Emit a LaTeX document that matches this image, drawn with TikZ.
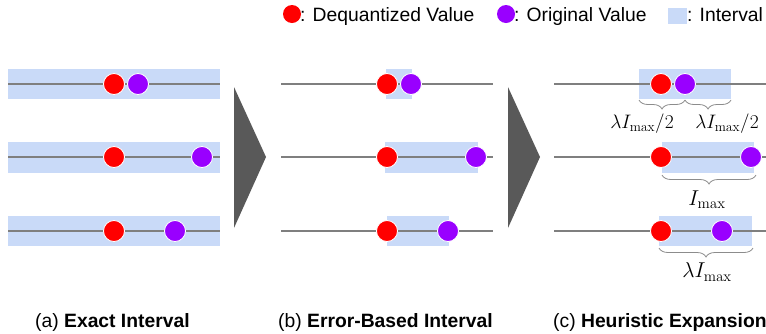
\documentclass[tikz,border=0pt]{standalone}
\usepackage{fix-cm}
\usepackage[no-math]{fontspec}
\setmainfont{Liberation Sans}
\usetikzlibrary{decorations.pathreplacing}
\definecolor{bandblue}{HTML}{C9DAF8}
\definecolor{dotred}{HTML}{FF0000}
\definecolor{dotpurple}{HTML}{9900FF}
\definecolor{arrowgray}{HTML}{595959}
\definecolor{linegray}{HTML}{7F7F7F}
\definecolor{bracegray}{HTML}{8C8C8C}
\tikzset{
  band/.style={fill=bandblue},
  axis/.style={draw=linegray, line width=1.3pt},
  reddot/.style={circle, fill=dotred, draw=white, line width=0.8pt, minimum size=21pt, inner sep=0pt},
  purpledot/.style={circle, fill=dotpurple, draw=white, line width=0.8pt, minimum size=21pt, inner sep=0pt},
  legdot/.style={circle, draw=none, minimum size=18pt, inner sep=0pt},
  bigarrow/.style={fill=arrowgray},
  brc/.style={draw=bracegray, line width=0.8pt, decorate, decoration={brace, mirror, amplitude=9pt}},
  lbl/.style={inner sep=0pt, font=\fontsize{19.5}{22}\selectfont},
  biglbl/.style={inner sep=0pt, font=\fontsize{21.5}{24}\selectfont},
  txtlbl/.style={inner sep=0pt, anchor=base west, font=\fontsize{19.3}{22}\selectfont},
}
\begin{document}
\begin{tikzpicture}[x=1pt, y=-1pt]
\useasboundingbox (0,0) rectangle (766,333);

% legend
\node[legdot, fill=dotred] (lr) at (292,14) {};
\node[txtlbl] (lrt) at (300,21) {: Dequantized Value};
\node[legdot, fill=dotpurple] (lp) at (506,14) {};
\node[txtlbl] (lpt) at (514,21) {: Original Value};
\node[fill=bandblue, minimum width=19pt, minimum height=16pt, inner sep=0pt] (lb) at (677.5,15.5) {};
\node[txtlbl] (lbt) at (687,21) {: Interval};

% panel (a)
\fill[band] (8,69) rectangle (220,99);
\fill[band] (8,142) rectangle (220,173);
\fill[band] (8,216) rectangle (220,246);
\coordinate (a1l) at (8,84); \coordinate (a1r) at (220,84);
\coordinate (a2l) at (8,157); \coordinate (a2r) at (220,157);
\coordinate (a3l) at (8,231); \coordinate (a3r) at (220,231);
\draw[axis] (a1l) -- (a1r);
\draw[axis] (a2l) -- (a2r);
\draw[axis] (a3l) -- (a3r);
\node[reddot] (ar1) at (114,84) {};
\node[purpledot] (ap1) at (138,84) {};
\node[reddot] (ar2) at (114,157) {};
\node[purpledot] (ap2) at (202,157) {};
\node[reddot] (ar3) at (114,231) {};
\node[purpledot] (ap3) at (175,231) {};

% arrows
\fill[bigarrow] (234,87) -- (266,157) -- (234,228) -- cycle;
\fill[bigarrow] (508,87) -- (540,157) -- (508,228) -- cycle;

% panel (b)
\fill[band] (386,69) rectangle (412,99);
\fill[band] (385,142) rectangle (478,173);
\fill[band] (387,216) rectangle (449,246);
\coordinate (b1l) at (281,84); \coordinate (b1r) at (493,84);
\coordinate (b2l) at (281,157); \coordinate (b2r) at (493,157);
\coordinate (b3l) at (281,231); \coordinate (b3r) at (493,231);
\draw[axis] (b1l) -- (b1r);
\draw[axis] (b2l) -- (b2r);
\draw[axis] (b3l) -- (b3r);
\node[reddot] (br1) at (387,84) {};
\node[purpledot] (bp1) at (411,84) {};
\node[reddot] (br2) at (387,157) {};
\node[purpledot] (bp2) at (476,157) {};
\node[reddot] (br3) at (387,231) {};
\node[purpledot] (bp3) at (448,231) {};

% panel (c)
\fill[band] (639,69) rectangle (731,99);
\fill[band] (662,142) rectangle (754,173);
\fill[band] (659,216) rectangle (752,246);
\coordinate (c1l) at (554,84); \coordinate (c1r) at (766,84);
\coordinate (c2l) at (554,157); \coordinate (c2r) at (766,157);
\coordinate (c3l) at (554,231); \coordinate (c3r) at (766,231);
\draw[axis] (c1l) -- (c1r);
\draw[axis] (c2l) -- (c2r);
\draw[axis] (c3l) -- (c3r);
\node[reddot] (cr1) at (661,84) {};
\node[purpledot] (cp1) at (685,84) {};
\node[reddot] (cr2) at (661,157) {};
\node[purpledot] (cp2) at (751,157) {};
\node[reddot] (cr3) at (661,231) {};
\node[purpledot] (cp3) at (722,231) {};

% braces
\coordinate (k1a) at (639,100); \coordinate (k1b) at (685,100); \coordinate (k1c) at (731,100);
\draw[brc] (k1a) -- (k1b);
\draw[brc] (k1b) -- (k1c);
\node[lbl] (l1a) at (642,124) {$\lambda I_{\max}/2$};
\node[lbl] (l1b) at (727,124) {$\lambda I_{\max}/2$};
\coordinate (k2a) at (662,175); \coordinate (k2b) at (756,175);
\draw[brc] (k2a) -- (k2b);
\node[biglbl] (l2) at (707,200) {$I_{\max}$};
\coordinate (k3a) at (659,248); \coordinate (k3b) at (753,248);
\draw[brc] (k3a) -- (k3b);
\node[biglbl] (l3) at (707,272) {$\lambda I_{\max}$};

% captions
\node[txtlbl] (capa) at (35,327) {(a) \textbf{Exact Interval}};
\node[txtlbl] (capb) at (278,327) {(b) \textbf{Error-Based Interval}};
\node[txtlbl] (capc) at (553,327) {(c) \textbf{Heuristic Expansion}};
\end{tikzpicture}
\end{document}
